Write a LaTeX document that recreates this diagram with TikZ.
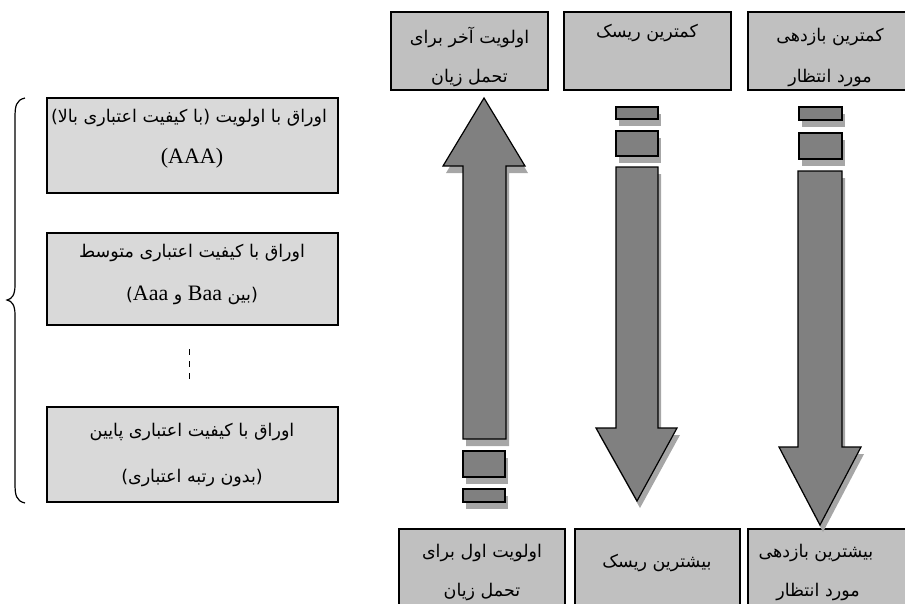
\documentclass[tikz,border=0pt]{standalone}
\usepackage{fontspec}
\setmainfont{Liberation Serif}
\newfontfamily\arfont[Script=Arabic]{DejaVu Sans}
\TeXXeTstate=1
\newcommand{\fa}[1]{{\arfont\beginR #1\endR}}
\newcommand{\la}[1]{\beginL{\rmfamily\fontsize{22}{24}\selectfont #1}\endL{}}
\definecolor{boxgray}{HTML}{C0C0C0}
\definecolor{leftgray}{HTML}{D9D9D9}
\definecolor{arrowgray}{HTML}{808080}
\definecolor{shadowgray}{HTML}{A6A6A6}
\tikzset{
  sidebox/.style={draw=black, line width=1.1pt, fill=boxgray},
  leftbox/.style={draw=black, line width=1.4pt, fill=leftgray},
  arrowbody/.style={draw=black, line width=1.2pt, fill=arrowgray, line join=miter},
  shadowbody/.style={fill=shadowgray},
  lbl/.style={inner sep=0pt, font=\fontsize{17.5}{20}\selectfont, text=black},
}
\begin{document}
\begin{tikzpicture}[x=1pt,y=-1pt]
\useasboundingbox (0,0) rectangle (905,603);
\clip (0,0) rectangle (905,603);

% top boxes
\path[sidebox] (391,12) rectangle (548,90);
\path[sidebox] (564,12) rectangle (731,90);
\path[sidebox] (748,12) rectangle (915,90);
\node[lbl] (t1a) at (469.5,37) {\fa{اولویت آخر برای}};
\node[lbl] (t1b) at (469.5,78) {\fa{تحمل زیان}};
\node[lbl] (t2a) at (647,33) {\fa{کمترین ریسک}};
\node[lbl] (t3a) at (830,37) {\fa{کمترین بازدهی}};
\node[lbl] (t3b) at (830,78) {\fa{مورد انتظار}};

% bottom boxes
\path[sidebox] (399,529) rectangle (565,620);
\path[sidebox] (575,529) rectangle (740,620);
\path[sidebox] (748,529) rectangle (915,620);
\node[lbl] (b1a) at (482,553) {\fa{اولویت اول برای}};
\node[lbl] (b1b) at (482,592) {\fa{تحمل زیان}};
\node[lbl] (b2a) at (657,563) {\fa{بیشترین ریسک}};
\node[lbl] (b3a) at (816,553) {\fa{بیشترین بازدهی}};
\node[lbl] (b3b) at (818,592) {\fa{مورد انتظار}};

% up arrow (left column)
\begin{scope}[shift={(3,7)}]
\fill[shadowgray] (484,98) -- (525,166) -- (506,166) -- (506,439) -- (463,439) -- (463,166) -- (443,166) -- cycle;
\fill[shadowgray] (463,451) rectangle (505,477);
\fill[shadowgray] (463,489) rectangle (505,502);
\end{scope}
\path[arrowbody] (484,98) -- (525,166) -- (506,166) -- (506,439) -- (463,439) -- (463,166) -- (443,166) -- cycle;
\path[arrowbody] (463,451) rectangle (505,477);
\path[arrowbody] (463,489) rectangle (505,502);

% down arrow (middle column)
\begin{scope}[shift={(3,7)}]
\fill[shadowgray] (616,107) rectangle (658,119);
\fill[shadowgray] (616,131) rectangle (658,156);
\fill[shadowgray] (616,167) -- (658,167) -- (658,428) -- (677,428) -- (637,501) -- (596,428) -- (616,428) -- cycle;
\end{scope}
\path[arrowbody] (616,107) rectangle (658,119);
\path[arrowbody] (616,131) rectangle (658,156);
\path[arrowbody] (616,167) -- (658,167) -- (658,428) -- (677,428) -- (637,501) -- (596,428) -- (616,428) -- cycle;

% down arrow (right column)
\begin{scope}[shift={(3,7)}]
\fill[shadowgray] (799,107) rectangle (842,120);
\fill[shadowgray] (799,133) rectangle (842,159);
\fill[shadowgray] (798,171) -- (842,171) -- (842,447) -- (861,447) -- (820,525) -- (779,447) -- (798,447) -- cycle;
\end{scope}
\path[arrowbody] (799,107) rectangle (842,120);
\path[arrowbody] (799,133) rectangle (842,159);
\path[arrowbody] (798,171) -- (842,171) -- (842,447) -- (861,447) -- (820,525) -- (779,447) -- (798,447) -- cycle;

% left boxes
\path[leftbox] (47,98) rectangle (338,193);
\path[leftbox] (47,233) rectangle (338,325);
\path[leftbox] (47,407) rectangle (338,502);
\node[lbl] (l1a) at (189,118) {\fa{اوراق با اولویت (با کیفیت اعتباری بالا)}};
\node[lbl] (l1b) at (192,158) {\la{(AAA)}};
\node[lbl] (l2a) at (192,253) {\fa{اوراق با کیفیت اعتباری متوسط}};
\node[lbl] (l2b) at (192,295) {\fa{(بین \la{Baa} و \la{Aaa})}};
\node[lbl] (l3a) at (192,432) {\fa{اوراق با کیفیت اعتباری پایین}};
\node[lbl] (l3b) at (192,478) {\fa{(بدون رتبه اعتباری)}};

% dashed ellipsis
\coordinate (d1) at (189,349);
\coordinate (d2) at (189,382);
\draw[line width=1pt, dash pattern=on 6pt off 6pt] (d1) -- (d2);

% brace
\draw[line width=1.2pt] (25,98) .. controls (16,100) and (15,106) .. (15,118) -- (15,285)
  .. controls (15,295) and (12,299) .. (7,300)
  .. controls (12,301) and (15,305) .. (15,315) -- (15,483)
  .. controls (15,495) and (16,501) .. (25,503);
\end{tikzpicture}
\end{document}
